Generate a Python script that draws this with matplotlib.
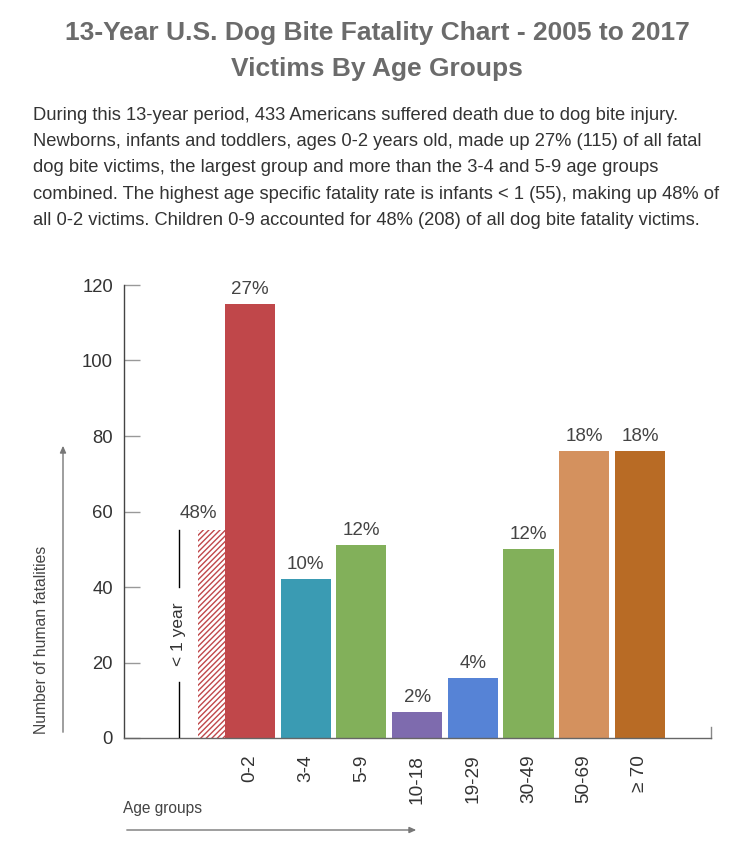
import matplotlib
matplotlib.use("Agg")
import matplotlib.pyplot as plt
import matplotlib.patches as mpatches

plt.rcParams['font.family'] = ['Liberation Sans', 'DejaVu Sans']

# ---- data ----
age_groups = ["0-2", "3-4", "5-9", "10-18", "19-29", "30-49", "50-69", "\u2265 70"]
fatalities = [115, 42, 51, 7, 16, 50, 76, 76]
percent_labels = ["27%", "10%", "12%", "2%", "4%", "12%", "18%", "18%"]
bar_colors = ["#C0474A", "#3A9BB3", "#82B05A", "#7E6BAE", "#5683D6", "#82B05A", "#D4915E", "#B86B25"]
infant_value = 55
infant_label = "48%"
y_ticks = [0, 20, 40, 60, 80, 100, 120]

title_lines = ["13-Year U.S. Dog Bite Fatality Chart - 2005 to 2017",
               "Victims By Age Groups"]
paragraph = [
    "During this 13-year period, 433 Americans suffered death due to dog bite injury.",
    "Newborns, infants and toddlers, ages 0-2 years old, made up 27% (115) of all fatal",
    "dog bite victims, the largest group and more than the 3-4 and 5-9 age groups",
    "combined. The highest age specific fatality rate is infants < 1 (55), making up 48% of",
    "all 0-2 victims. Children 0-9 accounted for 48% (208) of all dog bite fatality victims.",
]

W, H = 755, 850
fig = plt.figure(figsize=(W / 100, H / 100), dpi=100)

def fx(px):
    return px / W

def fy(py):
    return 1 - py / H

# Title
for i, line in enumerate(title_lines):
    fig.text(fx(377), fy(33 + 36 * i), line, ha="center", va="center", fontsize=19,
             fontweight="bold", color="#6b6b6b")

# Paragraph
for i, line in enumerate(paragraph):
    fig.text(fx(33), fy(115.5 + 26.2 * i), line, ha="left", va="center",
             fontsize=13.2, color="#333333")

# Axes
ax_l, ax_r, ax_t, ax_b = 124, 711, 285, 738
ax = fig.add_axes([fx(ax_l), fy(ax_b), (ax_r - ax_l) / W, (ax_b - ax_t) / H])
step = 55.7
x0 = (ax_l - 250) / step
x1 = (ax_r - 250) / step
ax.set_xlim(x0, x1)
ax.set_ylim(0, 120)

xs = list(range(len(age_groups)))
ax.bar(xs, fatalities, width=0.9, color=bar_colors, zorder=2)
for x, v, lab in zip(xs, fatalities, percent_labels):
    ax.text(x, v + 1.6, lab, ha="center", va="bottom", fontsize=13.5, color="#444444")

# hatched infant bar
hx_left = (198 - 250) / step
hx_right = (225 - 250) / step
plt.rcParams['hatch.linewidth'] = 1.0
ax.bar([(hx_left + hx_right) / 2], [infant_value], width=hx_right - hx_left,
       color="white", edgecolor="#C0474A", hatch="//////", linewidth=0, zorder=2)
ax.text(hx_left, infant_value + 2.3, infant_label, ha="center", va="bottom",
        fontsize=13.5, color="#444444")

# < 1 year bracket line
lx = (179 - 250) / step
ax.plot([lx, lx], [0, 14.8], color="black", lw=1, zorder=3)
ax.plot([lx, lx], [40, infant_value], color="black", lw=1, zorder=3)
ax.text(lx, 27.5, "< 1 year", rotation=90, ha="center", va="center",
        fontsize=12.5, color="#333333")

# spines
for s in ["top", "right"]:
    ax.spines[s].set_visible(False)
ax.spines["left"].set_color("#444444")
ax.spines["bottom"].set_color("#666666")
ax.spines["left"].set_linewidth(1)
ax.spines["bottom"].set_linewidth(1)
ax.plot([x1, x1], [0, 3], color="#888888", lw=1, clip_on=False)

ax.set_yticks(y_ticks)
ax.set_yticklabels([str(t) for t in y_ticks])
ax.tick_params(axis="y", direction="in", length=11.5, width=1, color="#999999",
               labelsize=13.3, labelcolor="#333333", pad=8)
ax.set_xticks(xs)
ax.set_xticklabels(age_groups, rotation=90, ha="center", va="top")
ax.tick_params(axis="x", length=0, labelsize=13.7, labelcolor="#333333", pad=12)

# axis titles and arrows
fig.text(fx(42), fy(640), "Number of human fatalities", rotation=90, ha="center",
         va="center", fontsize=11.3, color="#444444")
fig.add_artist(mpatches.FancyArrowPatch(
    (fx(63), fy(735)), (fx(63), fy(443)), transform=fig.transFigure,
    arrowstyle="-|>,head_length=4,head_width=1.8", color="#777777", lw=1))
fig.text(fx(123), fy(808), "Age groups", ha="left", va="center", fontsize=11.2,
         color="#444444")
fig.add_artist(mpatches.FancyArrowPatch(
    (fx(124), fy(830)), (fx(419), fy(830)), transform=fig.transFigure,
    arrowstyle="-|>,head_length=4,head_width=1.8", color="#777777", lw=1))

fig.savefig("out.png", dpi=100)
